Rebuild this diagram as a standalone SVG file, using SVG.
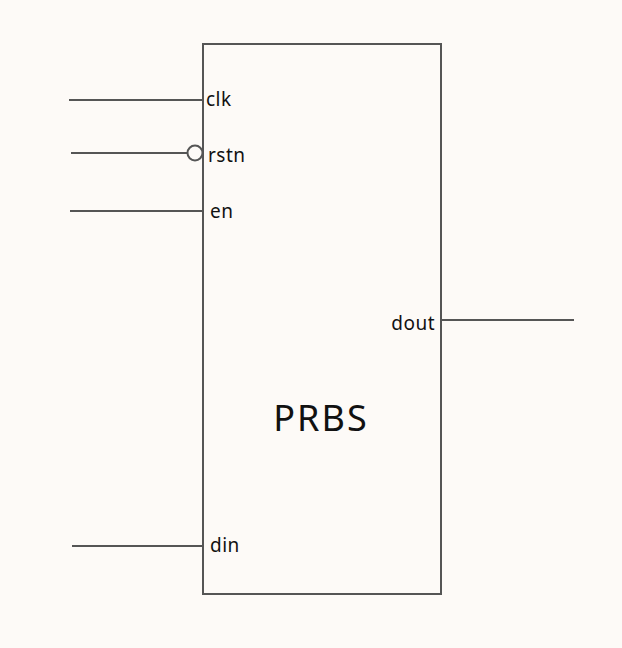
<svg xmlns="http://www.w3.org/2000/svg" width="622" height="648" viewBox="0 0 622 648">
<style>
.w{stroke:#555;stroke-width:2;fill:none}
.l{font-family:"Noto Sans","Liberation Sans",sans-serif;font-size:19px;fill:#111;letter-spacing:0.5px}
</style>
<rect width="622" height="648" fill="#fdfaf7"/>
<g id="prbs">
<rect class="w" x="203" y="44" width="238" height="550"/>
<text x="321" y="431" text-anchor="middle" style="font-family:'Noto Sans','Liberation Sans',sans-serif;font-size:36px;letter-spacing:2px;fill:#111">PRBS</text>
<text class="l" x="206" y="106">clk</text>
<text class="l" x="208" y="162">rstn</text>
<text class="l" x="210" y="218">en</text>
<text class="l" x="435" y="330" text-anchor="end">dout</text>
<text class="l" x="210" y="552">din</text>
</g>
<g id="connectors">
<line class="w" x1="69" y1="100" x2="203" y2="100"/>
<line class="w" x1="71" y1="153" x2="187" y2="153"/>
<circle class="w" cx="195" cy="153" r="7.5"/>
<line class="w" x1="70" y1="211" x2="203" y2="211"/>
<line class="w" x1="72" y1="546" x2="203" y2="546"/>
<line class="w" x1="441" y1="320" x2="574" y2="320"/>
</g>
</svg>
